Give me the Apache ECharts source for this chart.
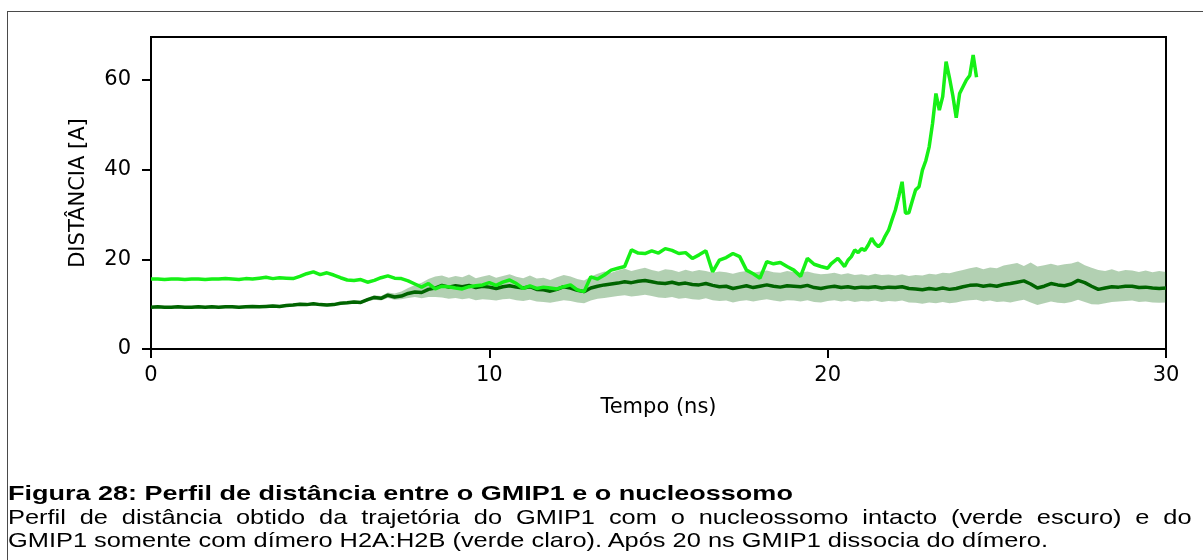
<!DOCTYPE html>
<html>
<head>
<meta charset="utf-8">
<script src="https://cdn.jsdelivr.net/npm/echarts@6/dist/echarts.min.js"></script>
<style>
  html, body { margin: 0; padding: 0; background: #fff; }
  #wrap { position: relative; width: 1203px; height: 560px; overflow: hidden; background: #fff; }
  #chart { position: absolute; left: 0; top: 0; width: 1203px; height: 560px; }
  #moldura { position: absolute; left: 7px; top: 11px; right: -10px; bottom: -10px;
             border-left: 1.5px solid #4a4a4a; border-top: 1.5px solid #4a4a4a; pointer-events: none; }
  .leg { position: absolute; left: 8px; font-family: "Liberation Sans", Arial, sans-serif;
         font-size: 21px; line-height: 24px; color: #000; white-space: nowrap; transform-origin: 0 0; }
  .leg.b { font-weight: bold; }
  .leg.j { text-align: justify; text-align-last: justify; }
</style>
</head>
<body>
<div id="wrap">
  <div id="chart"></div>
  <div id="moldura"></div>
  <div class="leg b" id="l1" style="top:481px;transform:scaleX(1.286)">Figura 28: Perfil de distância entre o GMIP1 e o nucleossomo</div>
  <div class="leg j" id="l2" style="top:505px;width:979px;transform:scaleX(1.209)">Perfil de distância obtido da trajetória do GMIP1 com o nucleossomo intacto (verde escuro) e do</div>
  <div class="leg" id="l3" style="top:528px;transform:scaleX(1.209)">GMIP1 somente com dímero H2A:H2B (verde claro). Após 20 ns GMIP1 dissocia do dímero.</div>
</div>
<script>
// Sampling of the intact-nucleosome trajectory (ns between stored frames)
const passo = 0.2;

// GMIP1 + intact nucleosome: mean distance (Å), t = 0 … 30 ns
const distNucleossomo = [
  9.3, 9.4, 9.3, 9.3, 9.4, 9.3, 9.3, 9.4, 9.3, 9.4,
  9.3, 9.4, 9.4, 9.3, 9.4, 9.5, 9.4, 9.5, 9.6, 9.5,
  9.7, 9.8, 10.0, 9.9, 10.1, 9.9, 9.8, 9.9, 10.2, 10.3,
  10.5, 10.4, 11.0, 11.5, 11.3, 12.0, 11.6, 11.8, 12.4, 12.7,
  12.6, 13.3, 13.6, 14.2, 13.8, 14.1, 13.9, 14.2, 13.7, 14.0,
  13.8, 13.5, 13.9, 14.1, 13.8, 13.6, 13.9, 13.3, 13.2, 12.9,
  13.3, 13.9, 13.6, 13.1, 12.8, 13.6, 14.0, 14.3, 14.5, 14.7,
  15.0, 14.8, 15.1, 15.3, 15.0, 14.7, 14.6, 14.9, 14.5, 14.7,
  14.4, 14.3, 14.6, 14.2, 13.9, 14.0, 13.5, 13.8, 14.1, 13.7,
  14.0, 14.3, 14.0, 13.8, 14.1, 14.0, 13.9, 14.2, 13.7, 13.5,
  13.8, 14.0, 13.7, 13.9, 13.6, 13.8, 13.7, 13.9, 13.6, 13.8,
  13.7, 13.9, 13.5, 13.4, 13.2, 13.5, 13.3, 13.6, 13.3, 13.5,
  13.9, 14.2, 14.3, 14.0, 14.2, 14.0, 14.4, 14.6, 14.9, 15.2,
  14.5, 13.6, 14.0, 14.6, 14.3, 14.1, 14.5, 15.3, 14.8, 14.0,
  13.3, 13.6, 13.9, 13.8, 14.0, 14.0, 13.7, 13.8, 13.6, 13.5,
  13.6
];

// Lower and upper limits of the shaded dispersion band (Å)
const bandaInferior = [
  9.0, 9.1, 9.0, 9.0, 9.1, 9.0, 9.0, 9.1, 9.0, 9.1,
  9.0, 9.1, 9.1, 9.0, 9.1, 9.2, 9.1, 9.2, 9.3, 9.2,
  9.4, 9.5, 9.7, 9.6, 9.8, 9.6, 9.5, 9.6, 9.9, 10.0,
  10.2, 10.1, 10.6, 11.0, 10.8, 11.4, 11.0, 11.1, 11.4, 11.6,
  11.3, 11.6, 11.6, 11.5, 11.2, 11.4, 11.1, 11.3, 10.9, 11.1,
  11.0, 10.8, 11.1, 11.2, 10.9, 10.7, 11.0, 10.6, 10.5, 10.3,
  10.6, 10.9, 10.7, 10.4, 10.2, 10.8, 11.2, 11.4, 11.6, 11.8,
  12.0, 11.7, 11.9, 12.1, 11.8, 11.5, 11.4, 11.6, 11.2, 11.4,
  11.1, 11.0, 11.3, 10.9, 10.7, 10.8, 10.4, 10.7, 10.9, 10.6,
  10.9, 11.1, 10.8, 10.6, 10.9, 10.8, 10.6, 10.9, 10.5, 10.4,
  10.7, 10.9, 10.6, 10.8, 10.5, 10.7, 10.6, 10.8, 10.5, 10.7,
  10.6, 10.8, 10.4, 10.3, 10.1, 10.4, 10.2, 10.5, 10.2, 10.4,
  10.7, 10.9, 11.0, 10.6, 10.8, 10.5, 10.6, 10.4, 10.7, 11.0,
  10.4, 9.8, 10.2, 10.6, 10.3, 10.2, 10.5, 11.0, 10.5, 10.0,
  9.9, 10.2, 10.5, 10.6, 10.7, 10.8, 10.5, 10.6, 10.4, 10.3,
  10.4
];
const bandaSuperior = [
  9.6, 9.7, 9.6, 9.6, 9.7, 9.6, 9.6, 9.7, 9.6, 9.7,
  9.6, 9.7, 9.7, 9.6, 9.7, 9.8, 9.7, 9.8, 9.9, 9.8,
  10.0, 10.1, 10.3, 10.2, 10.4, 10.2, 10.1, 10.2, 10.5, 10.6,
  10.8, 10.7, 11.4, 12.0, 11.8, 12.6, 12.4, 12.8, 13.6, 14.3,
  14.8, 15.6, 16.2, 16.4, 15.9, 16.3, 16.0, 16.6, 15.8, 16.2,
  16.5, 15.9, 16.3, 16.7, 16.1, 15.8, 16.4, 15.7, 15.9, 15.4,
  16.0, 16.5, 16.2, 15.6, 15.3, 16.2, 16.8, 17.3, 17.0, 17.5,
  17.9, 17.4, 17.8, 18.1, 17.6, 17.3, 17.8, 17.6, 17.2, 17.7,
  17.3, 17.6, 17.4, 17.0, 17.3, 17.1, 16.8, 17.2, 17.4, 17.0,
  17.3, 17.5, 17.1, 17.0, 17.4, 17.2, 17.0, 17.3, 16.9, 16.7,
  16.8, 17.0, 16.6, 16.9, 16.5, 16.7, 16.4, 16.8, 16.5, 16.6,
  16.4, 16.7, 16.3, 16.5, 16.4, 16.8, 16.6, 17.0, 16.9, 17.3,
  17.6, 18.0, 18.3, 17.8, 18.2, 18.0, 18.6, 18.9, 19.2, 18.5,
  19.3, 18.4, 18.7, 19.0, 18.6, 18.9, 19.1, 19.5, 18.7, 18.1,
  17.6, 17.4, 17.8, 17.3, 17.6, 17.5, 17.2, 17.5, 17.1, 17.4,
  17.2
];

// GMIP1 + H2A:H2B dimer: distance (Å), every 0.2 ns from 0 to 19.8 ns
const passoDimeroA = 0.2;
const distDimeroA = [
  15.6, 15.6, 15.5, 15.6, 15.6, 15.5, 15.6, 15.6, 15.5, 15.6,
  15.6, 15.7, 15.6, 15.5, 15.7, 15.6, 15.8, 16.0, 15.7, 15.9,
  15.8, 15.7, 16.2, 16.8, 17.2, 16.6, 17.0, 16.5, 15.9, 15.4,
  15.3, 15.5, 14.9, 15.3, 15.9, 16.3, 15.8, 15.7, 15.2, 14.5,
  13.8, 14.6, 13.4, 14.0, 13.9, 13.6, 13.4, 13.9, 14.1, 14.3,
  14.8, 14.2, 14.9, 15.4, 14.6, 13.5, 14.1, 13.5, 13.8, 13.6,
  13.4, 13.9, 14.3, 13.2, 12.8, 16.1, 15.6, 16.5, 17.6, 18.0,
  18.4, 22.1, 21.4, 21.3, 21.9, 21.4, 22.4, 22.0, 21.3, 21.5,
  20.2, 21.0, 21.9, 17.2, 19.8, 20.4, 21.3, 20.6, 17.6, 16.8,
  15.8, 19.5, 19.0, 19.3, 18.4, 17.6, 16.2, 20.2, 18.9, 18.4
];
// … then every 0.1 ns from 20.0 to 24.4 ns, while it leaves the dimer
const inicioDimeroB = 20.0;
const passoDimeroB = 0.1;
const distDimeroB = [
  18.0, 19.0, 19.6, 20.2, 19.3, 18.4, 19.8, 20.6, 22.1, 21.5,
  22.4, 22.0, 23.2, 24.7, 23.5, 22.8, 23.6, 25.2, 26.5, 28.8,
  31.0, 34.0, 37.3, 30.3, 30.4, 33.0, 35.5, 36.2, 39.9, 42.0,
  45.1, 50.3, 57.0, 53.3, 56.3, 64.1, 60.5, 56.5, 51.6, 57.0,
  58.5, 60.0, 61.0, 65.6, 60.6
];

// Axis ticks
const ticksX = [0, 10, 20, 30];
const ticksY = [0, 20, 40, 60];
const limiteY = 69.6;

const r1 = v => Math.round(v * 100) / 100;
const tempoNuc = distNucleossomo.map((_, i) => r1(i * passo));
const serieNuc = distNucleossomo.map((v, i) => [tempoNuc[i], v]);
const linhasBanda = bandaInferior.map((v, i) => [tempoNuc[i], v, bandaSuperior[i]]);
const serieDimero = distDimeroA.map((v, i) => [r1(i * passoDimeroA), v])
  .concat(distDimeroB.map((v, i) => [r1(inicioDimeroB + i * passoDimeroB), v]));

const escuro = '#006400';
const claro = '#16f016';
const fonteEixo = { fontFamily: 'DejaVu Sans', fontSize: 21, color: '#000' };

// Shaded band: one polygon through the upper limits and back along the lower ones
function desenhaBanda(params, api) {
  if (params.dataIndex !== 0) return null;
  const sup = linhasBanda.map(r => api.coord([r[0], r[2]]));
  const inf = linhasBanda.map(r => api.coord([r[0], r[1]])).reverse();
  return {
    type: 'polygon',
    shape: { points: sup.concat(inf) },
    style: { fill: 'rgba(0,100,0,0.3)', stroke: null }
  };
}

const chart = echarts.init(document.getElementById('chart'), null, { renderer: 'canvas' });
chart.setOption({
  animation: false,
  backgroundColor: '#fff',
  grid: {
    left: 151, top: 37, right: 37, bottom: 211,
    show: true, borderColor: '#000', borderWidth: 2, backgroundColor: 'transparent',
    containLabel: false, outerBoundsMode: 'none'
  },
  xAxis: {
    type: 'value', min: ticksX[0], max: ticksX[ticksX.length - 1], interval: 10,
    name: 'Tempo (ns)', nameLocation: 'middle', nameGap: 48,
    nameTextStyle: fonteEixo,
    axisLine: { show: true, onZero: false, lineStyle: { color: '#000', width: 2 } },
    axisTick: { show: true, inside: false, length: 9, lineStyle: { color: '#000', width: 2 } },
    axisLabel: Object.assign({ margin: 16 }, fonteEixo),
    splitLine: { show: false }
  },
  yAxis: {
    type: 'value', min: 0, max: limiteY,
    name: 'DISTÂNCIA [A]', nameLocation: 'middle', nameRotate: 90, nameGap: 62,
    nameTextStyle: fonteEixo,
    axisLine: { show: true, onZero: false, lineStyle: { color: '#000', width: 2 } },
    axisTick: { show: true, inside: false, length: 9, customValues: ticksY, lineStyle: { color: '#000', width: 2 } },
    axisLabel: Object.assign({ margin: 20, customValues: ticksY }, fonteEixo),
    splitLine: { show: false }
  },
  series: [
    {
      type: 'custom', data: linhasBanda, silent: true,
      encode: { x: 0, y: [1, 2] },
      renderItem: desenhaBanda
    },
    {
      type: 'line', data: serieNuc, symbol: 'none', silent: true,
      lineStyle: { color: escuro, width: 3.5 }
    },
    {
      type: 'line', data: serieDimero, symbol: 'none', silent: true,
      lineStyle: { color: claro, width: 3.5 }
    }
  ]
});
</script>
</body>
</html>
